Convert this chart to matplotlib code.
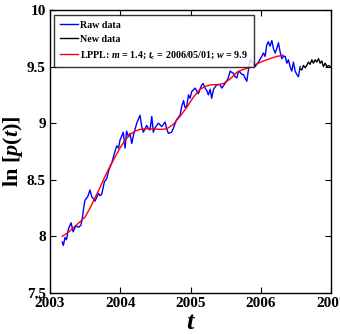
import numpy as np
import matplotlib
matplotlib.use('Agg')
import matplotlib.pyplot as plt

# valores
raw_t = [2003.175, 2003.19, 2003.214, 2003.235, 2003.26, 2003.30, 2003.33, 2003.356, 2003.38,
         2003.41, 2003.44, 2003.46, 2003.484, 2003.498, 2003.537, 2003.569, 2003.594, 2003.62,
         2003.64, 2003.69, 2003.71, 2003.736, 2003.773, 2003.807, 2003.84, 2003.88, 2003.915,
         2003.95, 2003.975, 2003.996, 2004.043, 2004.068, 2004.09, 2004.117, 2004.139, 2004.163,
         2004.186, 2004.234, 2004.281, 2004.305, 2004.328, 2004.376, 2004.402, 2004.423, 2004.448,
         2004.47, 2004.495, 2004.542, 2004.59, 2004.637, 2004.661, 2004.684, 2004.73, 2004.758,
         2004.80, 2004.85, 2004.875, 2004.90, 2004.92, 2004.946, 2004.97, 2004.993, 2005.017,
         2005.064, 2005.11, 2005.16, 2005.18, 2005.206, 2005.23, 2005.253, 2005.278, 2005.30,
         2005.327, 2005.373, 2005.42, 2005.444, 2005.49, 2005.538, 2005.562, 2005.586, 2005.61,
         2005.633, 2005.658, 2005.683, 2005.705, 2005.73, 2005.752, 2005.776, 2005.80, 2005.823,
         2005.847, 2005.868, 2005.894, 2005.918, 2005.965, 2006.013, 2006.036, 2006.06, 2006.084,
         2006.107, 2006.13, 2006.156, 2006.179, 2006.203, 2006.227, 2006.25, 2006.274, 2006.298,
         2006.32, 2006.345, 2006.37, 2006.392, 2006.416, 2006.44, 2006.463, 2006.488, 2006.512,
         2006.534, 2006.559]
raw_p = [7.95, 7.92, 7.99, 7.97, 8.06, 8.12, 8.04, 8.08, 8.09,
         8.08, 8.10, 8.16, 8.27, 8.32, 8.35, 8.41, 8.35, 8.33,
         8.31, 8.38, 8.36, 8.37, 8.48, 8.51, 8.59, 8.65, 8.73,
         8.80, 8.78, 8.85, 8.92, 8.78, 8.93, 8.88, 8.91, 8.82,
         8.89, 9.00, 9.07, 8.97, 8.92, 8.98, 8.95, 8.94, 9.06,
         8.92, 8.96, 9.00, 8.97, 9.01, 8.95, 8.91, 8.92, 8.96,
         9.03, 9.07, 9.15, 9.20, 9.14, 9.15, 9.25, 9.22, 9.28,
         9.31, 9.26, 9.34, 9.35, 9.31, 9.29, 9.25, 9.30, 9.22,
         9.30, 9.34, 9.34, 9.31, 9.35, 9.40, 9.46, 9.45, 9.44,
         9.41, 9.40, 9.46, 9.45, 9.43, 9.43, 9.40, 9.37, 9.47,
         9.56, 9.55, 9.53, 9.50, 9.54, 9.59, 9.62, 9.59, 9.69,
         9.72, 9.68, 9.73, 9.66, 9.62, 9.66, 9.71, 9.63, 9.57,
         9.59, 9.59, 9.53, 9.56, 9.50, 9.46, 9.54, 9.46, 9.43,
         9.41, 9.50]

new_t = [2006.559, 2006.582, 2006.606, 2006.63, 2006.653, 2006.676, 2006.70, 2006.725, 2006.748,
         2006.772, 2006.795, 2006.82, 2006.843, 2006.867, 2006.89, 2006.915, 2006.94, 2006.964,
         2006.986]
new_p = [9.48, 9.47, 9.51, 9.49, 9.51, 9.54, 9.52, 9.56, 9.53,
         9.56, 9.54, 9.57, 9.53, 9.55, 9.50, 9.53, 9.50, 9.51, 9.50]

fit_t = [2003.175, 2003.27, 2003.356, 2003.43, 2003.498, 2003.57, 2003.64, 2003.71, 2003.783,
         2003.855, 2003.925, 2003.996, 2004.07, 2004.139, 2004.21, 2004.281, 2004.35, 2004.423,
         2004.49, 2004.566, 2004.661, 2004.755, 2004.85, 2004.946, 2005.04, 2005.135, 2005.23,
         2005.30, 2005.373, 2005.467, 2005.562, 2005.658, 2005.73, 2005.823, 2005.894, 2005.965,
         2006.036, 2006.13, 2006.227, 2006.32]
fit_p = [8.00, 8.04, 8.09, 8.13, 8.17, 8.25, 8.34, 8.43, 8.53,
         8.62, 8.70, 8.78, 8.85, 8.90, 8.93, 8.945, 8.95, 8.95,
         8.95, 8.945, 8.95, 8.99, 9.06, 9.14, 9.23, 9.30, 9.33,
         9.34, 9.34, 9.35, 9.39, 9.45, 9.47, 9.49, 9.51, 9.53,
         9.55, 9.57, 9.59, 9.60]

xticks = [2003, 2004, 2005, 2006, 2007]
yticks = [7.5, 8, 8.5, 9, 9.5, 10]
ytick_labels = ['7.5', '8', '8.5', '9', '9.5', '10']

plt.rcParams['font.family'] = 'Liberation Serif'
plt.rcParams['font.weight'] = 'bold'
plt.rcParams['mathtext.fontset'] = 'custom'
plt.rcParams['mathtext.rm'] = 'Liberation Serif:bold'
plt.rcParams['mathtext.bf'] = 'Liberation Serif:bold'
plt.rcParams['mathtext.it'] = 'Liberation Serif:italic:bold'

fig = plt.figure(figsize=(3.4, 3.34), dpi=100)
ax = fig.add_axes([0.147, 0.123, 0.827, 0.847])

ax.plot(raw_t, raw_p, color='#0000ff', lw=1.0, label='Raw data')
ax.plot(new_t, new_p, color='black', lw=1.0, label='New data')
ax.plot(fit_t, fit_p, color='#ff0000', lw=1.0,
        label=r'LPPL: $m$ = 1.4; $t_{\rm c}$ = 2006/05/01; $w$ = 9.9')

ax.set_xlim(2003, 2007)
ax.set_ylim(7.5, 10)
ax.set_xticks(xticks)
ax.set_xticklabels([str(x) for x in xticks])
ax.set_yticks(yticks)
ax.set_yticklabels(ytick_labels)
ax.tick_params(direction='in', top=True, right=True, length=4, width=0.8,
               labelsize=11, pad=3)
for lab in ax.get_xticklabels() + ax.get_yticklabels():
    lab.set_fontweight('bold')
for s in ax.spines.values():
    s.set_linewidth(1.0)

ax.set_xlabel(r'$t$', fontsize=19, fontweight='bold', labelpad=1)
ax.set_ylabel(r'ln [$p$($t$)]', fontsize=16, fontweight='bold')
ax.yaxis.set_label_coords(-0.088, 0.5)

leg = ax.legend(loc='upper left', fontsize=7.2, frameon=True, fancybox=False,
                handlelength=1.8, handletextpad=0.2, borderpad=0.6,
                labelspacing=0.5, borderaxespad=0.45)
leg.get_frame().set_edgecolor('black')
leg.get_frame().set_linewidth(1.0)
for txt in leg.get_texts():
    txt.set_fontweight('bold')

fig.savefig('out.png', dpi=100)
